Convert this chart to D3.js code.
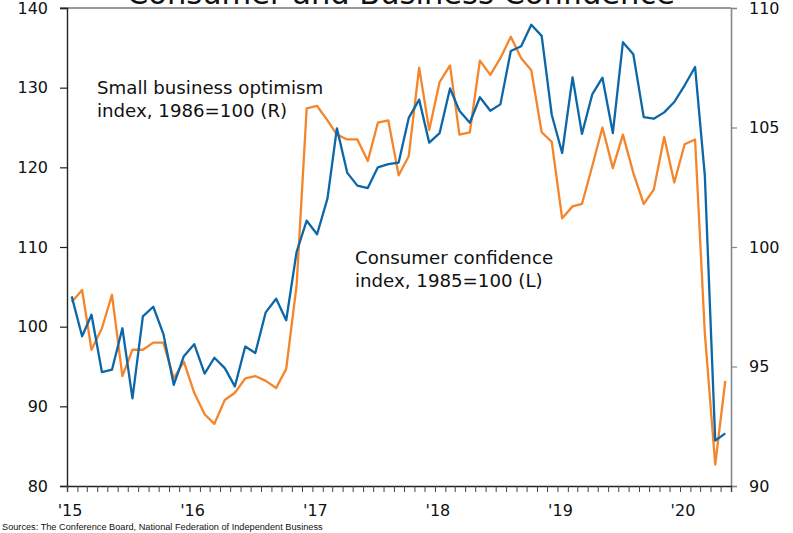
<!DOCTYPE html>
<html>
<head>
<meta charset="utf-8">
<script src="https://cdnjs.cloudflare.com/ajax/libs/d3/7.8.5/d3.min.js"></script>
<style>
  body { margin: 0; background: #fff; }
  svg text { font-family: "DejaVu Sans", Verdana, sans-serif; fill: #111; }
</style>
</head>
<body>
<div id="chart"></div>
<script>
// monthly, Jan 2015 .. May 2020
var startMonth = new Date(2015, 0, 1);

// Conference Board consumer confidence, 1985=100 (left axis)
var consumer = [103.8, 98.8, 101.5, 94.3, 94.6, 99.8, 91.0, 101.3, 102.5, 99.1, 92.7, 96.3,
  97.8, 94.1, 96.1, 94.8, 92.5, 97.5, 96.7, 101.8, 103.5, 100.8, 109.4, 113.3,
  111.6, 116.1, 124.9, 119.3, 117.7, 117.4, 120.0, 120.4, 120.6, 126.2, 128.5, 123.1,
  124.3, 129.9, 127.1, 125.6, 128.8, 127.1, 127.9, 134.6, 135.2, 137.9, 136.5, 126.6,
  121.8, 131.3, 124.2, 129.2, 131.25, 124.3, 135.7, 134.2, 126.3, 126.1, 126.9, 128.2,
  130.3, 132.6, 119.0, 85.7, 86.6];

// NFIB small business optimism, 1986=100 (right axis)
var business = [97.7, 98.2, 95.7, 96.6, 98.0, 94.6, 95.7, 95.7, 96.0, 96.0, 94.5, 95.2,
  93.9, 93.0, 92.6, 93.6, 93.9, 94.5, 94.6, 94.4, 94.1, 94.9, 98.4, 105.8,
  105.9, 105.3, 104.7, 104.5, 104.5, 103.6, 105.2, 105.3, 103.0, 103.8, 107.5, 104.9,
  106.9, 107.6, 104.7, 104.8, 107.8, 107.2, 107.9, 108.8, 107.9, 107.4, 104.8, 104.4,
  101.2, 101.7, 101.8, 103.4, 105.0, 103.3, 104.7, 103.1, 101.8, 102.4, 104.6, 102.7,
  104.3, 104.5, 96.4, 90.9, 94.4];

var leftTicks = [80, 90, 100, 110, 120, 130, 140];
var rightTicks = [90, 95, 100, 105, 110];
var yearLabels = ["'15", "'16", "'17", "'18", "'19", "'20"];

var width = 793, height = 533;
var margin = {top: 8, right: 62, bottom: 47, left: 67};
var innerW = width - margin.left - margin.right,
    innerH = height - margin.top - margin.bottom;

var svg = d3.select('#chart')
  .append('svg')
  .attr('width', width)
  .attr('height', height);

var g = svg.append('g')
  .attr('transform', 'translate(' + margin.left + ',' + margin.top + ')');

var x = d3.scaleTime()
  .domain([startMonth, new Date(2020, 5, 1)])
  .range([0, innerW]);

var yL = d3.scaleLinear().domain([80, 140]).range([innerH, 0]);
var yR = d3.scaleLinear().domain([90, 110]).range([innerH, 0]);

function monthDate(i) {
  return new Date(2015, i, 15);
}

// title, mostly cut off at the top (as in the original)
svg.append('text')
  .attr('x', 401)
  .attr('y', 4)
  .attr('text-anchor', 'middle')
  .style('font-size', '30.5px')
  .text('Consumer and Business Confidence');

// top frame line
g.append('line')
  .attr('x1', -7).attr('x2', innerW)
  .attr('y1', 0).attr('y2', 0)
  .attr('stroke', '#333').attr('stroke-width', 1.2);

// left axis
var leftAxis = g.append('g')
  .call(d3.axisLeft(yL).tickValues(leftTicks).tickSize(7).tickPadding(12));
leftAxis.select('.domain').attr('stroke', '#222').attr('stroke-width', 1.4);
leftAxis.selectAll('.tick line').attr('stroke', '#222').attr('stroke-width', 1.2);
leftAxis.selectAll('text').style('font-size', '16px').style('font-family', '"DejaVu Sans", Verdana, sans-serif').attr('fill', '#111');

// right axis
var rightAxis = g.append('g')
  .attr('transform', 'translate(' + innerW + ',0)')
  .call(d3.axisRight(yR).tickValues(rightTicks).tickSize(6).tickPadding(12));
rightAxis.select('.domain').attr('stroke', '#888').attr('stroke-width', 1.6);
rightAxis.selectAll('.tick line').attr('stroke', '#888').attr('stroke-width', 1.2);
rightAxis.selectAll('text').style('font-size', '16px').style('font-family', '"DejaVu Sans", Verdana, sans-serif').attr('fill', '#111');

// bottom axis with monthly ticks
var bottomAxis = g.append('g')
  .attr('transform', 'translate(0,' + innerH + ')')
  .call(d3.axisBottom(x).ticks(d3.timeMonth.every(1)).tickSize(6).tickFormat(''));
bottomAxis.select('.domain').attr('stroke', '#222').attr('stroke-width', 1.4);
bottomAxis.selectAll('.tick line').attr('stroke', '#444').attr('stroke-width', 1);

g.selectAll('.year-label')
  .data(yearLabels)
  .enter()
  .append('text')
  .attr('class', 'year-label')
  .attr('x', function(d, i) { return x(new Date(2015 + i, 0, 1)) + 3; })
  .attr('y', innerH + 30)
  .attr('text-anchor', 'middle')
  .style('font-size', '16px')
  .text(function(d) { return d; });

// lines
var lineL = d3.line()
  .x(function(d, i) { return x(monthDate(i)); })
  .y(function(d) { return yL(d); });
var lineR = d3.line()
  .x(function(d, i) { return x(monthDate(i)); })
  .y(function(d) { return yR(d); });

g.append('path')
  .datum(business)
  .attr('d', lineR)
  .attr('fill', 'none')
  .attr('stroke', '#f5852a')
  .attr('stroke-width', 2.3)
  .attr('stroke-linejoin', 'round');

g.append('path')
  .datum(consumer)
  .attr('d', lineL)
  .attr('fill', 'none')
  .attr('stroke', '#0b67a8')
  .attr('stroke-width', 2.3)
  .attr('stroke-linejoin', 'round');

// annotations
var notes = [
  {lines: ['Small business optimism', 'index, 1986=100 (R)'], x: 97, y: 94},
  {lines: ['Consumer confidence', 'index, 1985=100 (L)'], x: 355, y: 264}
];
notes.forEach(function(n) {
  var t = svg.append('text')
    .attr('x', n.x)
    .attr('y', n.y)
    .style('font-size', '18.2px');
  n.lines.forEach(function(l, i) {
    t.append('tspan')
      .attr('x', n.x)
      .attr('dy', i === 0 ? 0 : 22.7)
      .text(l);
  });
});

svg.append('text')
  .attr('x', 2)
  .attr('y', 530)
  .style('font-family', '"Liberation Sans Narrow", "Liberation Sans", Arial, sans-serif')
  .style('font-size', '9.2px')
  .text('Sources: The Conference Board, National Federation of Independent Business');
</script>
</body>
</html>
